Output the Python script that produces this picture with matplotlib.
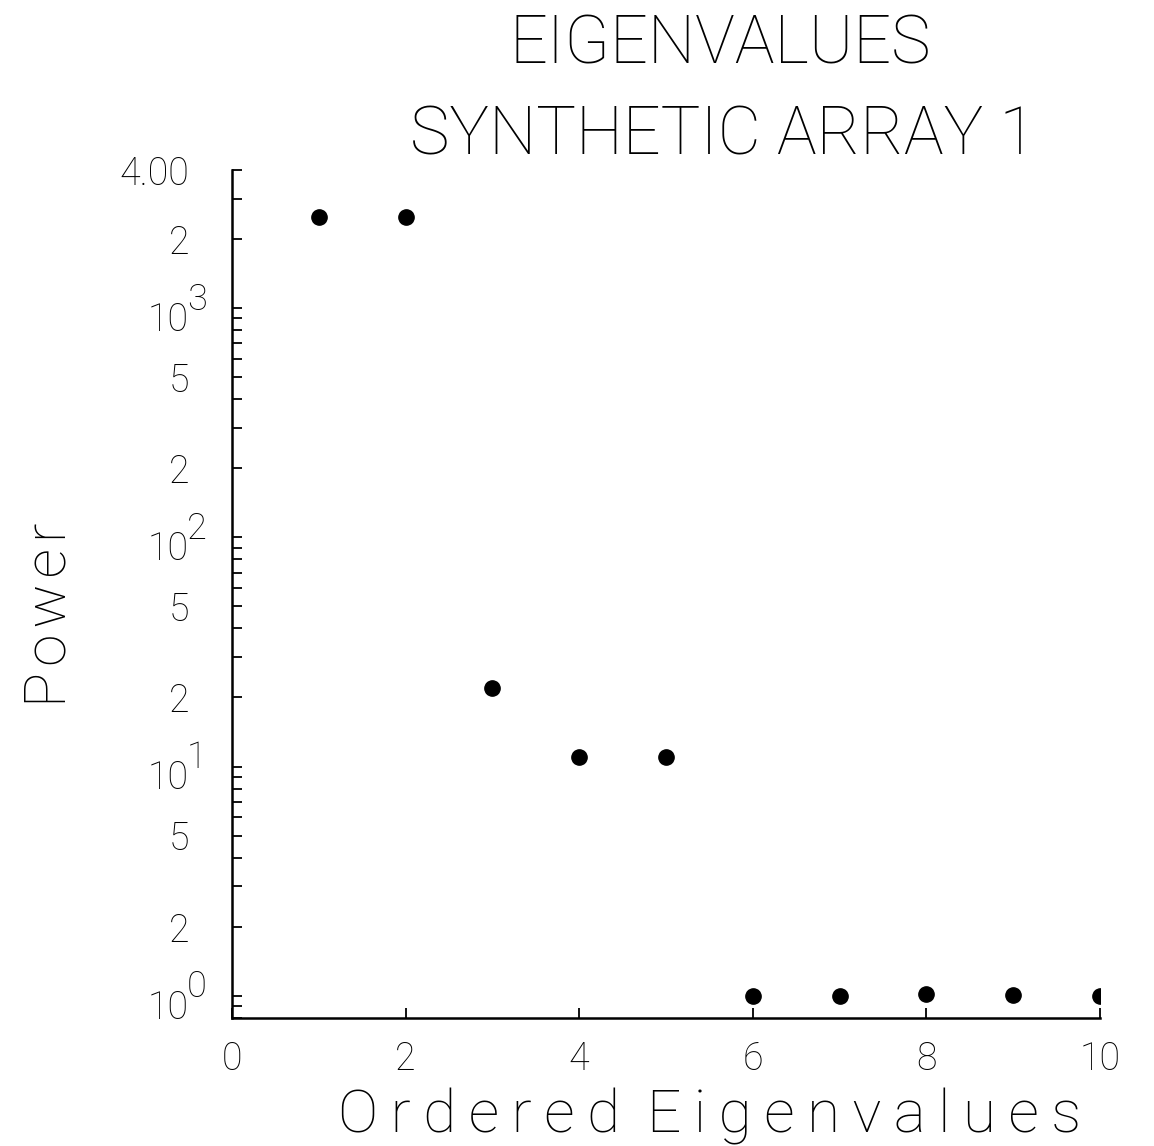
import matplotlib
matplotlib.use("Agg")
import matplotlib.pyplot as plt
from matplotlib.ticker import FixedLocator, FixedFormatter, NullFormatter
from matplotlib.transforms import ScaledTranslation

# Eigenvalue spectrum of the synthetic array
eig_index = [1, 2, 3, 4, 5, 6, 7, 8, 9, 10]
eig_power = [2490, 2500, 22.0, 11.0, 11.0, 1.0, 1.0, 1.02, 1.01, 1.0]

x_ticks = [0, 2, 4, 6, 8, 10]
x_tick_labels = ["0", "2", "4", "6", "8", "10"]

y_ticks = [4000, 2000, 1000, 500, 200, 100, 50, 20, 10, 5, 2, 1]
y_tick_labels = ["4.00", "2", "10", "5", "2", "10", "5", "2", "10", "5", "2", "10"]
y_minor = [3000, 900, 800, 700, 600, 400, 300,
           90, 80, 70, 60, 40, 30,
           9, 8, 7, 6, 4, 3,
           0.9, 0.8]
decades = [1000, 100, 10, 1]
decade_exps = ["3", "2", "1", "0"]

FONT = ["Roboto", "DejaVu Sans"]
plt.rcParams["font.family"] = FONT
plt.rcParams["font.weight"] = "light"
plt.rcParams["axes.labelweight"] = "light"

fig = plt.figure(figsize=(11.54, 11.46), dpi=100)
ax = fig.add_axes([0.2010, 0.1117, 0.7522, 0.7400])

ax.plot(eig_index, eig_power, linestyle="none", marker="o",
        markersize=11, color="black")

ax.set_yscale("log")
ax.set_xlim(0, 10)
ax.set_ylim(0.8, 4000)

for side in ("top", "right"):
    ax.spines[side].set_visible(False)
for side in ("left", "bottom"):
    ax.spines[side].set_linewidth(1.8)

ax.xaxis.set_major_locator(FixedLocator(x_ticks))
ax.xaxis.set_major_formatter(FixedFormatter(x_tick_labels))
ax.yaxis.set_major_locator(FixedLocator(y_ticks))
ax.yaxis.set_major_formatter(FixedFormatter(y_tick_labels))
ax.yaxis.set_minor_locator(FixedLocator(y_minor))
ax.yaxis.set_minor_formatter(NullFormatter())

ax.tick_params(axis="both", which="both", direction="in", length=7.2,
               width=1.3, color="black", labelsize=27)
ax.tick_params(axis="x", pad=16)
ax.tick_params(axis="y", pad=31)

# decade labels sit a little below their tick, with a large raised exponent
fig.canvas.draw()
shift_down = ScaledTranslation(0, -8 / 100, fig.dpi_scale_trans)
for lbl, val in zip(ax.get_yticklabels(), y_ticks):
    if val in decades:
        lbl.set_transform(lbl.get_transform() + shift_down)
for val, e in zip(decades, decade_exps):
    ax.annotate(e, xy=(0, val), xycoords=ax.get_yaxis_transform(),
                xytext=(-32.5, 6), textcoords="offset points",
                ha="left", va="center", fontsize=26, fontweight="light")

ax.set_xlabel("O\u2009r\u2009d\u2009e\u2009r\u2009e\u2009d\u2009 "
              "E\u2009i\u2009g\u2009e\u2009n\u2009v\u2009a\u2009l\u2009u\u2009e\u2009s",
              fontsize=43.5, fontweight="light")
ax.xaxis.set_label_coords(0.5507, -0.082)
ax.set_ylabel("P\u200ao\u200aw\u200ae\u200ar", fontsize=42, fontweight="light")
ax.yaxis.set_label_coords(-0.178, 0.475)

fig.text(0.624, 0.960, "EIGENVALUES", ha="center", va="center",
         fontsize=48, fontweight="light")
fig.text(0.6265, 0.881, "SYNTHETIC ARRAY 1", ha="center", va="center",
         fontsize=48, fontweight="light")

fig.savefig("out.png", dpi=100)
